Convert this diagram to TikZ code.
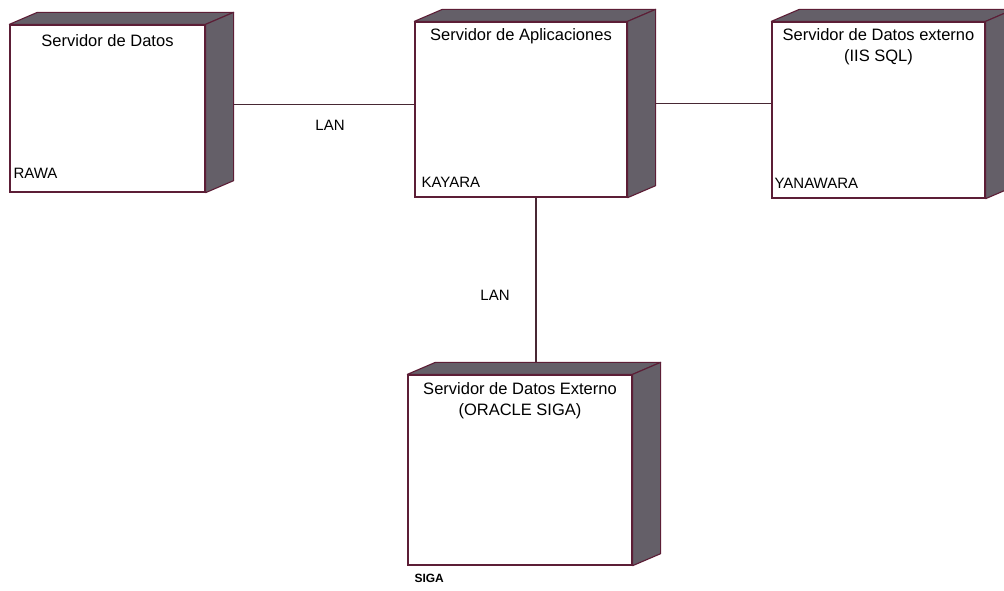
\documentclass[tikz,border=0pt]{standalone}
\usepackage{fontspec}
\setmainfont{Liberation Sans}
\definecolor{NodoBorde}{RGB}{92,30,54}
\definecolor{NodoSombra}{RGB}{100,95,104}
\definecolor{EnlaceLinea}{RGB}{72,40,52}
\usetikzlibrary{
    positioning,
    calc,
}

\begin{document}
\begin{tikzpicture}[x=1pt, y=-1pt,
        servidor/.style={draw=NodoBorde, line width=1.3pt, fill=white, inner sep=0pt},
        cara/.style={fill=NodoSombra, draw=NodoBorde, line width=1.1pt, line join=round},
        titulo/.style={font=\fontsize{16.5}{21}\selectfont, align=center, anchor=north, text=black},
        nombre/.style={font=\fontsize{15}{18}\selectfont, anchor=south west, inner sep=0pt, text=black},
        etiqueta/.style={font=\fontsize{15}{18}\selectfont, text=black},
        enlace/.style={draw=EnlaceLinea, line width=1.5pt},
    ]
        \useasboundingbox (0,0) rectangle (1004,590);
        \node[servidor, minimum width=195pt, minimum height=167pt] (datos) at (107.5,108.5) {};
        \node[servidor, minimum width=212pt, minimum height=175pt] (aplic) at (521,109.5) {};
        \node[servidor, minimum width=213pt, minimum height=176pt] (externo) at (878.5,110) {};
        \node[servidor, minimum width=224pt, minimum height=190pt] (siga) at (520,470) {};
        \coordinate (aplicIzq) at ([yshift=5pt]aplic.west);
        \coordinate (aplicDer) at ([yshift=6pt]aplic.east);
        \coordinate (aplicAbajo) at ([xshift=15pt]aplic.south);
        \draw[enlace] (aplicIzq) -- (aplicIzq -| datos.east);
        \draw[enlace] (aplicDer) -- (aplicDer -| externo.west);
        \draw[enlace] (aplicAbajo) -- (aplicAbajo |- siga.north);
        \node[etiqueta] (lanA) at (330,125) {LAN};
        \node[etiqueta] (lanB) at (495,295) {LAN};
        \foreach \n in {datos,aplic,externo,siga}{
            \filldraw[cara] (\n.north west) -- ++(28,-12) -- ($(\n.north east)+(28,-12)$) -- (\n.north east) -- cycle;
            \filldraw[cara] (\n.north east) -- ++(28,-12) -- ($(\n.south east)+(28,-12)$) -- (\n.south east) -- cycle;
        }
        \node[titulo] (tDatos) at ([yshift=-7pt]datos.north) {Servidor de Datos};
        \node[titulo] (tAplic) at ([yshift=-4pt]aplic.north) {Servidor de Aplicaciones};
        \node[titulo] (tExterno) at ([yshift=-4pt]externo.north) {Servidor de Datos externo\\(IIS SQL)};
        \node[titulo] (tSiga) at ([yshift=-5pt]siga.north) {Servidor de Datos Externo\\(ORACLE SIGA)};
        \node[nombre] (nDatos) at ([xshift=4pt, yshift=14pt]datos.south west) {RAWA};
        \node[nombre] (nAplic) at ([xshift=7pt, yshift=10pt]aplic.south west) {KAYARA};
        \node[nombre] (nExterno) at ([xshift=3pt, yshift=10pt]externo.south west) {YANAWARA};
        \node[nombre, font=\fontsize{12}{14}\selectfont\bfseries, below right=8pt and 7pt of siga.south west, anchor=north west] (nSiga) {SIGA};
    \end{tikzpicture}
\end{document}
